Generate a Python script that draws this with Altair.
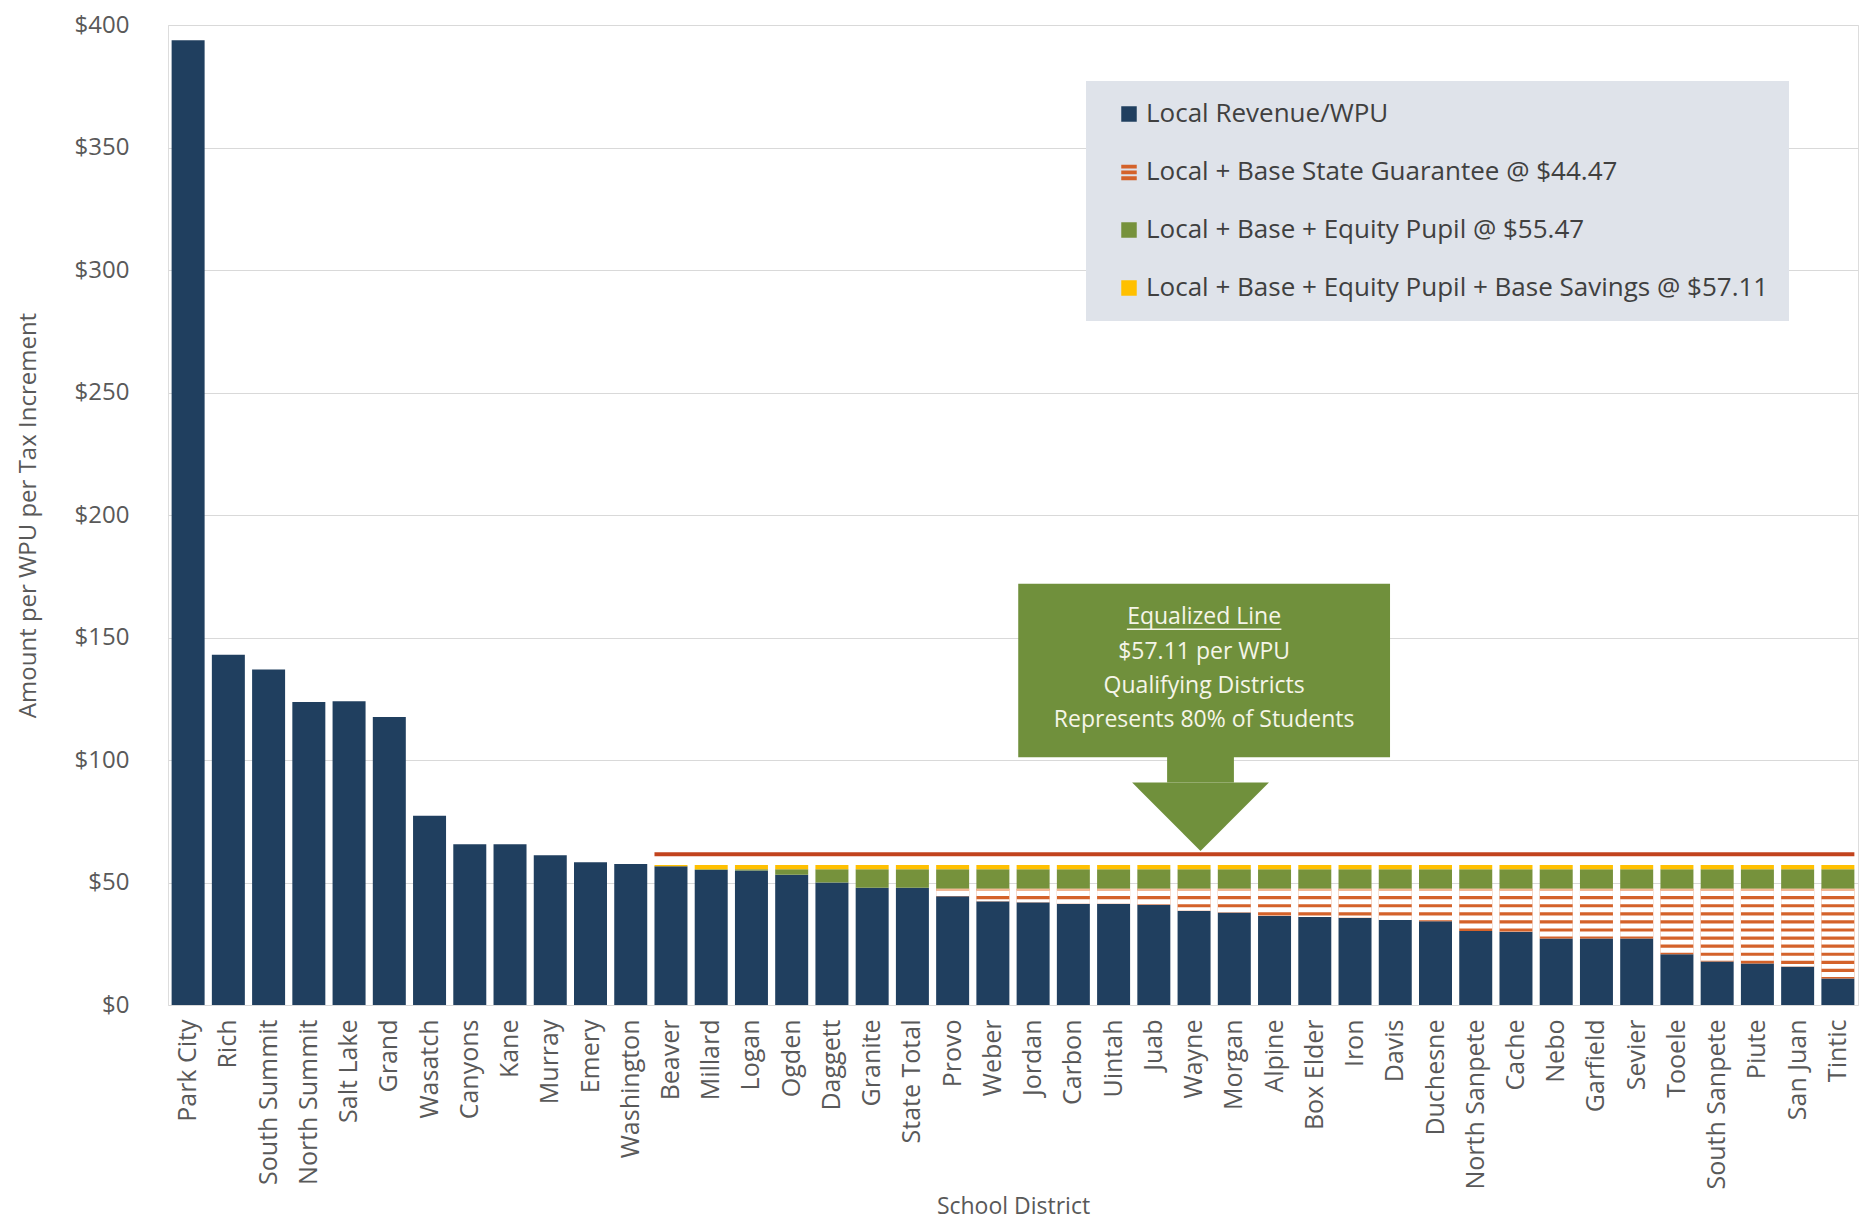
import altair as alt
import pandas as pd

# ---------------- data ----------------
districts = ["Park City", "Rich", "South Summit", "North Summit", "Salt Lake", "Grand",
             "Wasatch", "Canyons", "Kane", "Murray", "Emery", "Washington", "Beaver",
             "Millard", "Logan", "Ogden", "Daggett", "Granite", "State Total", "Provo",
             "Weber", "Jordan", "Carbon", "Uintah", "Juab", "Wayne", "Morgan", "Alpine",
             "Box Elder", "Iron", "Davis", "Duchesne", "North Sanpete", "Cache", "Nebo",
             "Garfield", "Sevier", "Tooele", "South Sanpete", "Piute", "San Juan", "Tintic"]
local_revenue = [393.8, 143.0, 136.9, 123.7, 124.0, 117.6, 77.2, 65.6, 65.6, 61.1, 58.3,
                 57.6, 56.6, 55.1, 54.9, 53.2, 50.0, 47.9, 47.9, 44.4, 42.3, 41.9, 41.3,
                 41.3, 40.9, 38.5, 37.8, 36.3, 35.9, 35.6, 34.7, 34.2, 30.2, 29.9, 27.1,
                 27.1, 27.1, 20.7, 17.8, 16.9, 15.7, 10.8]
first_qualifying = "Beaver"

series = ["Local Revenue/WPU",
          "Local + Base State Guarantee @ $44.47",
          "Local + Base + Equity Pupil @ $55.47",
          "Local + Base + Equity Pupil + Base Savings @ $57.11"]
series_tops = [47.5, 55.4, 57.11]          # drawn cumulative tops of the state layers
equalized_line = 61.5

annotation_lines = ["Equalized Line", "$57.11 per WPU", "Qualifying Districts",
                    "Represents 80% of Students"]
annotation_line_y = [158.3, 143.9, 130.3, 116.3]

# ---------------- style ----------------
BLUE, ORANGE, GREEN, YELLOW = "#203f5f", "#d4622a", "#76923c", "#ffc000"
LIGHT_ORANGE = "#f3b991"
RED = "#c2431d"
BOX_GREEN = "#70903c"
TEXT = "#595959"
FONT = "Open Sans"
series_colors = [BLUE, ORANGE, GREEN, YELLOW]
stripes_icon = "M-1,-0.95H1V-0.45H-1Z M-1,-0.2H1V0.3H-1Z M-1,0.55H1V1.05H-1Z"
series_shapes = ["square", stripes_icon, "square", "square"]

STRIPE_TOP, STRIPE_PERIOD, STRIPE_THICK = 44.47, 3.3, 1.3
LIGHT_LO = 46.7
PAD_IN, PAD_OUT = 0.18, 0.09

# annotation geometry (data units: x in band steps, y in dollars)
box_x, box_y = [21.13, 30.37], [101.1, 171.9]
shaft_x, shaft_y = [24.83, 26.49], [90.8, 102.0]
head_x, head_top, head_tip = [23.96, 25.66, 27.36], 90.8, 62.9
underline_x, underline_y = [23.83, 27.67], 153.4

# ---------------- tables ----------------
q_start = districts.index(first_qualifying)
orange_top = series_tops[0]
seg_rows, gap_rows, light_rows = [], [], []
for i, (d, v) in enumerate(zip(districts, local_revenue)):
    seg_rows.append(dict(district=d, series=series[0], lo=0.0, hi=v))
    if i < q_start:
        continue
    lo = v
    for name, top in zip(series[1:], series_tops):
        if top > lo:
            seg_rows.append(dict(district=d, series=name, lo=lo, hi=top))
            lo = top
    if v < orange_top:
        a = max(v, LIGHT_LO)
        if orange_top > a:
            light_rows.append(dict(district=d, lo=a, hi=orange_top))
        gaps = [(STRIPE_TOP, LIGHT_LO)]
        t = STRIPE_TOP
        while t > 0:
            gaps.append((max(t - STRIPE_PERIOD, 0), t - STRIPE_THICK))
            t -= STRIPE_PERIOD
        for a, b in gaps:
            a2 = max(a, v)
            if b > a2:
                gap_rows.append(dict(district=d, lo=a2, hi=b))

seg_df = pd.DataFrame(seg_rows)
gap_df = pd.DataFrame(gap_rows)
light_df = pd.DataFrame(light_rows)

n = len(districts)
red_df = pd.DataFrame({"x": [q_start + PAD_OUT], "x2": [n - PAD_OUT], "y": [equalized_line]})
box_df = pd.DataFrame({"x": [box_x[0], shaft_x[0]], "x2": [box_x[1], shaft_x[1]],
                       "y": [box_y[0], shaft_y[0]], "y2": [box_y[1], shaft_y[1]]})
head_df = pd.DataFrame({"x": head_x, "y": [head_top] * 3, "y2": [head_top, head_tip, head_top]})
text_df = pd.DataFrame({"x": [(box_x[0] + box_x[1]) / 2] * 4, "y": annotation_line_y,
                        "t": annotation_lines})
ul_df = pd.DataFrame({"x": [underline_x[0]], "x2": [underline_x[1]], "y": [underline_y]})

# ---------------- scales / axes ----------------
xband = alt.Scale(domain=districts, paddingInner=PAD_IN, paddingOuter=PAD_OUT)
xq = alt.Scale(domain=[0, n], nice=False, zero=False)
yscale = alt.Scale(domain=[0, 400], nice=False, zero=True)
yaxis = alt.Axis(values=list(range(0, 401, 50)), format="$.0f",
                 title="Amount per WPU per Tax Increment", grid=True, gridColor="#d9d9d9",
                 gridWidth=1.2, domain=False, ticks=False, labelPadding=39,
                 labelFontSize=24, labelColor=TEXT, labelFont=FONT, titleFont=FONT,
                 titleFontSize=24, titleFontWeight="normal", titleColor=TEXT,
                 titlePadding=34)
xaxis = alt.Axis(title="School District", labelAngle=270, ticks=False, domain=False,
                 labelPadding=14, labelFontSize=25, labelColor=TEXT, labelFont=FONT,
                 labelOverlap=False, labelLimit=0, titleFont=FONT, titleFontSize=23,
                 titleFontWeight="normal", titleColor=TEXT, titlePadding=6)
color_scale = alt.Scale(domain=series, range=series_colors)
shape_scale = alt.Scale(domain=series, range=series_shapes)
legend = alt.Legend(title=None, orient="none", legendX=918, legendY=56,
                    direction="vertical", fillColor="#dfe3ea", padding=20,
                    symbolOffset=10, labelFontSize=26, labelFont=FONT,
                    labelColor="#404040", symbolSize=240, rowPadding=32, labelOffset=4,
                    labelLimit=0, symbolStrokeWidth=0)


def Y(field):
    return alt.Y(field, scale=yscale, axis=yaxis)


bars = alt.Chart(seg_df).mark_bar().encode(
    x=alt.X("district:N", scale=xband, axis=xaxis),
    y=Y("lo:Q"), y2="hi:Q",
    color=alt.Color("series:N", scale=color_scale, legend=legend),
)
legend_pts = alt.Chart(seg_df).transform_filter("false").mark_point(
    filled=True, opacity=1).encode(
    x=alt.X("district:N", scale=xband, axis=None),
    y=Y("hi:Q"),
    color=alt.Color("series:N", scale=color_scale, legend=legend),
    shape=alt.Shape("series:N", scale=shape_scale, legend=legend),
)
gaps = alt.Chart(gap_df).mark_bar(color="white").encode(
    x=alt.X("district:N", scale=xband, axis=None), y=Y("lo:Q"), y2="hi:Q")
light = alt.Chart(light_df).mark_bar(color=LIGHT_ORANGE).encode(
    x=alt.X("district:N", scale=xband, axis=None), y=Y("lo:Q"), y2="hi:Q")

red = alt.Chart(red_df).mark_rule(color=RED, strokeWidth=4).encode(
    x=alt.X("x:Q", scale=xq, axis=None), x2="x2:Q", y=Y("y:Q"))
box = alt.Chart(box_df).mark_rect(color=BOX_GREEN).encode(
    x=alt.X("x:Q", scale=xq, axis=None), x2="x2:Q", y=Y("y:Q"), y2="y2:Q")
head = alt.Chart(head_df).mark_area(color=BOX_GREEN).encode(
    x=alt.X("x:Q", scale=xq, axis=None), y=Y("y:Q"), y2="y2:Q")
texts = alt.Chart(text_df).mark_text(font=FONT, fontSize=23, color="#f5f5e8",
                                     align="center", baseline="middle").encode(
    x=alt.X("x:Q", scale=xq, axis=None), y=Y("y:Q"), text="t:N")
underline = alt.Chart(ul_df).mark_rule(color="#f5f5e8", strokeWidth=1.5).encode(
    x=alt.X("x:Q", scale=xq, axis=None), x2="x2:Q", y=Y("y:Q"))

chart = alt.layer(bars, gaps, light, legend_pts, red, box, head, texts, underline).resolve_scale(
    x="independent"
).properties(
    width=1690, height=980,
    autosize=alt.AutoSizeParams(type="none"),
    padding={"left": 160, "top": 17, "right": 6, "bottom": 218},
    background="white",
).configure_view(stroke=None).configure(font=FONT)

chart.save("out.html", embed_options={"renderer": "svg", "actions": False})
